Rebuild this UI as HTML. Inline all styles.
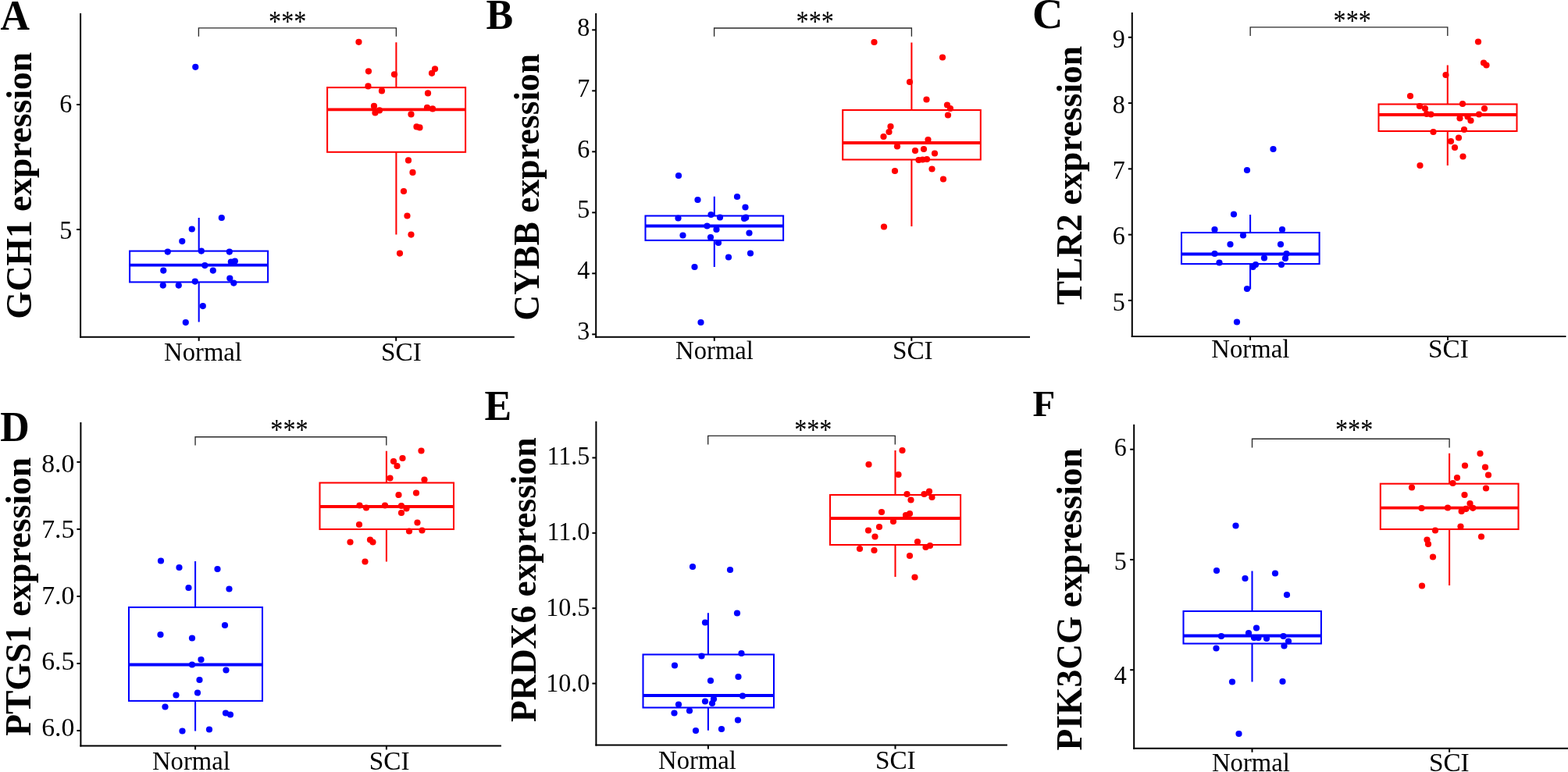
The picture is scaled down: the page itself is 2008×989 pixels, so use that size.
<!DOCTYPE html>
<html lang="en"><head><meta charset="utf-8"><title>Expression box plots</title>
<style>
html,body{margin:0;padding:0;background:#fff;}
body{width:2008px;height:989px;overflow:hidden;}
svg{display:block;font-family:"Liberation Serif",serif;}
.pl{font-weight:bold;font-size:54.5px;fill:#000;}
.yt{font-weight:bold;font-size:46.7px;fill:#000;text-anchor:middle;}
.tk{font-size:33.8px;fill:#000;}
.st{font-size:38.5px;fill:#000;text-anchor:middle;}
.ax{stroke:#000;stroke-width:2.0;fill:none;stroke-linecap:butt;}
.tkl{stroke:#000;stroke-width:2.0;fill:none;}
.br{stroke:#2b2b2b;stroke-width:1.35;fill:none;}
.bb{fill:none;stroke-width:2.05;stroke-linejoin:miter;}
.md{stroke-width:3.8;fill:none;}
</style></head><body>
<svg width="2008" height="989" viewBox="0 0 2008 989">
<rect x="0" y="0" width="2008" height="989" fill="#ffffff"/>
<g>
<g stroke="#0000ff"><path class="bb" d="M254.7 279.1V321.6M254.7 361.4V412.6"/><rect class="bb" x="166.1" y="321.6" width="177" height="39.8"/><path class="md" d="M166.1 339.7H343.1"/></g>
<g stroke="#ff0000"><path class="bb" d="M507.4 54.2V112.1M507.4 194.8V300.6"/><rect class="bb" x="419.1" y="112.1" width="177" height="82.7"/><path class="md" d="M419.1 140.4H596.1"/></g>
<g fill="#0000ff"><circle cx="250.29" cy="85.86" r="4.1"/><circle cx="283.81" cy="279.01" r="4.1"/><circle cx="245.78" cy="293.52" r="4.1"/><circle cx="233.27" cy="309.03" r="4.1"/><circle cx="214.76" cy="322.54" r="4.1"/><circle cx="257.79" cy="321.54" r="4.1"/><circle cx="293.82" cy="322.54" r="4.1"/><circle cx="295.82" cy="335.55" r="4.1"/><circle cx="300.83" cy="334.55" r="4.1"/><circle cx="262.3" cy="340.05" r="4.1"/><circle cx="209.26" cy="346.56" r="4.1"/><circle cx="272.8" cy="346.56" r="4.1"/><circle cx="294.32" cy="356.57" r="4.1"/><circle cx="299.32" cy="362.57" r="4.1"/><circle cx="249.79" cy="360.57" r="4.1"/><circle cx="228.77" cy="365.57" r="4.1"/><circle cx="208.76" cy="365.57" r="4.1"/><circle cx="259.79" cy="392.09" r="4.1"/><circle cx="237.78" cy="413.11" r="4.1"/></g>
<g fill="#ff0000"><circle cx="459.44" cy="53.84" r="4.1"/><circle cx="471.95" cy="91.37" r="4.1"/><circle cx="504.98" cy="95.37" r="4.1"/><circle cx="557.02" cy="88.37" r="4.1"/><circle cx="553.01" cy="93.87" r="4.1"/><circle cx="471.45" cy="110.38" r="4.1"/><circle cx="488.97" cy="116.39" r="4.1"/><circle cx="548.01" cy="119.39" r="4.1"/><circle cx="478.96" cy="135.9" r="4.1"/><circle cx="485.96" cy="141.41" r="4.1"/><circle cx="480.46" cy="144.41" r="4.1"/><circle cx="547.01" cy="137.9" r="4.1"/><circle cx="554.02" cy="139.4" r="4.1"/><circle cx="526.49" cy="146.41" r="4.1"/><circle cx="533.5" cy="162.42" r="4.1"/><circle cx="537.5" cy="163.42" r="4.1"/><circle cx="522.99" cy="205.45" r="4.1"/><circle cx="528.5" cy="220.97" r="4.1"/><circle cx="516.99" cy="244.98" r="4.1"/><circle cx="521.49" cy="276.51" r="4.1"/><circle cx="526.49" cy="300.53" r="4.1"/><circle cx="511.98" cy="324.54" r="4.1"/></g>
<path class="br" d="M254.4 46.8V35.8H507.4V46.8"/>
<text class="st" transform="translate(368.2 40) scale(0.8365 1)" x="0" y="0">***</text>
<path class="ax" d="M103.1 17V432.8"/>
<path class="ax" d="M102.1 431.8H658.8"/>
<path class="tkl" d="M98.1 134H103.1"/>
<text class="tk" text-anchor="end" transform="translate(92.4 144) scale(0.95 1)">6</text>
<path class="tkl" d="M98.1 294H103.1"/>
<text class="tk" text-anchor="end" transform="translate(92.4 305.6) scale(0.95 1)">5</text>
<path class="tkl" d="M254.7 431.8V436.8"/>
<text class="tk" text-anchor="middle" transform="translate(260 462.05) scale(0.9680 1)">Normal</text>
<path class="tkl" d="M507.2 431.8V436.8"/>
<text class="tk" text-anchor="middle" transform="translate(514 462.05) scale(0.9854 1)">SCI</text>
<text class="yt" transform="translate(40.2 237.8) rotate(-90) scale(0.9746 1)" x="0" y="0">GCH1 expression</text>
<text class="pl" transform="translate(0.6 37.8) scale(0.953 1)" x="0" y="0">A</text>
</g>
<g>
<g stroke="#0000ff"><path class="bb" d="M914.8 251.8V276.5M914.8 307.9V342"/><rect class="bb" x="826.5" y="276.5" width="176.6" height="31.4"/><path class="md" d="M826.5 289.5H1003.1"/></g>
<g stroke="#ff0000"><path class="bb" d="M1167.4 54.5V141M1167.4 204.5V290"/><rect class="bb" x="1079.2" y="141" width="176.6" height="63.5"/><path class="md" d="M1079.2 183H1255.8"/></g>
<g fill="#0000ff"><circle cx="869" cy="225" r="4.1"/><circle cx="893.5" cy="256" r="4.1"/><circle cx="944" cy="252" r="4.1"/><circle cx="954.5" cy="265.5" r="4.1"/><circle cx="910.5" cy="275" r="4.1"/><circle cx="922" cy="278.5" r="4.1"/><circle cx="868.5" cy="279.5" r="4.1"/><circle cx="953.1" cy="279.9" r="4.1"/><circle cx="955.2" cy="278.7" r="4.1"/><circle cx="905.5" cy="289.5" r="4.1"/><circle cx="917.5" cy="294" r="4.1"/><circle cx="874.5" cy="301.5" r="4.1"/><circle cx="959.5" cy="298.5" r="4.1"/><circle cx="910" cy="304" r="4.1"/><circle cx="920" cy="311" r="4.1"/><circle cx="933" cy="329.5" r="4.1"/><circle cx="961" cy="324.5" r="4.1"/><circle cx="889.5" cy="342" r="4.1"/><circle cx="897.5" cy="413" r="4.1"/></g>
<g fill="#ff0000"><circle cx="1119.5" cy="54" r="4.1"/><circle cx="1207" cy="73.5" r="4.1"/><circle cx="1165" cy="105" r="4.1"/><circle cx="1186.5" cy="127.5" r="4.1"/><circle cx="1213" cy="134.5" r="4.1"/><circle cx="1217" cy="139" r="4.1"/><circle cx="1214" cy="147.5" r="4.1"/><circle cx="1140.5" cy="162" r="4.1"/><circle cx="1138.5" cy="169" r="4.1"/><circle cx="1131.5" cy="175" r="4.1"/><circle cx="1188.5" cy="179" r="4.1"/><circle cx="1149" cy="187.5" r="4.1"/><circle cx="1172" cy="193" r="4.1"/><circle cx="1183" cy="191" r="4.1"/><circle cx="1197" cy="196.5" r="4.1"/><circle cx="1176.5" cy="205" r="4.1"/><circle cx="1181.5" cy="204.5" r="4.1"/><circle cx="1187" cy="204" r="4.1"/><circle cx="1146" cy="219" r="4.1"/><circle cx="1193.5" cy="216.5" r="4.1"/><circle cx="1208" cy="229.5" r="4.1"/><circle cx="1132" cy="290.5" r="4.1"/></g>
<path class="br" d="M914.6 46.8V36H1167.4V46.8"/>
<text class="st" transform="translate(1043.7 40) scale(0.8365 1)" x="0" y="0">***</text>
<path class="ax" d="M763.2 16.9V432.8"/>
<path class="ax" d="M762.2 431.8H1319"/>
<path class="tkl" d="M758.2 38.35H763.2"/>
<text class="tk" text-anchor="end" transform="translate(755.4 46) scale(0.95 1)">8</text>
<path class="tkl" d="M758.2 116.34H763.2"/>
<text class="tk" text-anchor="end" transform="translate(755.4 123.76) scale(0.95 1)">7</text>
<path class="tkl" d="M758.2 194.33H763.2"/>
<text class="tk" text-anchor="end" transform="translate(755.4 201.52) scale(0.95 1)">6</text>
<path class="tkl" d="M758.2 272.32H763.2"/>
<text class="tk" text-anchor="end" transform="translate(755.4 279.28) scale(0.95 1)">5</text>
<path class="tkl" d="M758.2 350.31H763.2"/>
<text class="tk" text-anchor="end" transform="translate(755.4 357.04) scale(0.95 1)">4</text>
<path class="tkl" d="M758.2 428.3H763.2"/>
<text class="tk" text-anchor="end" transform="translate(755.4 434.8) scale(0.95 1)">3</text>
<path class="tkl" d="M914.8 431.8V436.8"/>
<text class="tk" text-anchor="middle" transform="translate(915 460.1) scale(0.9680 1)">Normal</text>
<path class="tkl" d="M1167.3 431.8V436.8"/>
<text class="tk" text-anchor="middle" transform="translate(1168.8 460.1) scale(0.9854 1)">SCI</text>
<text class="yt" transform="translate(690.2 239.75) rotate(-90) scale(0.9746 1)" x="0" y="0">CYBB expression</text>
<text class="pl" transform="translate(622.4 36.85) scale(0.953 1)" x="0" y="0">B</text>
</g>
<g>
<g stroke="#0000ff"><path class="bb" d="M1601.1 275V298M1601.1 338.1V370.5"/><rect class="bb" x="1513" y="298" width="176.6" height="40.1"/><path class="md" d="M1513 325.5H1689.6"/></g>
<g stroke="#ff0000"><path class="bb" d="M1853.8 83.5V133.5M1853.8 168V212"/><rect class="bb" x="1765.5" y="133.5" width="177" height="34.5"/><path class="md" d="M1765.5 147H1942.5"/></g>
<g fill="#0000ff"><circle cx="1630.5" cy="191" r="4.1"/><circle cx="1597" cy="218" r="4.1"/><circle cx="1580" cy="274.5" r="4.1"/><circle cx="1555.5" cy="294" r="4.1"/><circle cx="1642" cy="294" r="4.1"/><circle cx="1592" cy="301.5" r="4.1"/><circle cx="1575.5" cy="313" r="4.1"/><circle cx="1640" cy="313" r="4.1"/><circle cx="1555.5" cy="325" r="4.1"/><circle cx="1647.5" cy="325" r="4.1"/><circle cx="1619" cy="330.5" r="4.1"/><circle cx="1646" cy="331" r="4.1"/><circle cx="1561.5" cy="336.5" r="4.1"/><circle cx="1608" cy="339" r="4.1"/><circle cx="1604.5" cy="342" r="4.1"/><circle cx="1641" cy="339" r="4.1"/><circle cx="1597" cy="370" r="4.1"/><circle cx="1584" cy="412.5" r="4.1"/></g>
<g fill="#ff0000"><circle cx="1893" cy="53.5" r="4.1"/><circle cx="1900" cy="80.5" r="4.1"/><circle cx="1903.5" cy="83.5" r="4.1"/><circle cx="1851.5" cy="96" r="4.1"/><circle cx="1806" cy="123" r="4.1"/><circle cx="1873" cy="133" r="4.1"/><circle cx="1818" cy="136" r="4.1"/><circle cx="1825" cy="139" r="4.1"/><circle cx="1901" cy="139" r="4.1"/><circle cx="1827" cy="146" r="4.1"/><circle cx="1832.5" cy="146.5" r="4.1"/><circle cx="1894" cy="146.5" r="4.1"/><circle cx="1879.5" cy="149.5" r="4.1"/><circle cx="1869.5" cy="151.5" r="4.1"/><circle cx="1883.5" cy="154.5" r="4.1"/><circle cx="1875" cy="166" r="4.1"/><circle cx="1835.5" cy="169" r="4.1"/><circle cx="1868" cy="176.5" r="4.1"/><circle cx="1858" cy="181" r="4.1"/><circle cx="1863" cy="189" r="4.1"/><circle cx="1873.5" cy="200.5" r="4.1"/><circle cx="1818.5" cy="212" r="4.1"/></g>
<path class="br" d="M1601.15 46V34.9H1853.8V46"/>
<text class="st" transform="translate(1731.7 39.3) scale(0.8365 1)" x="0" y="0">***</text>
<path class="ax" d="M1449.8 15.9V431.9"/>
<path class="ax" d="M1448.8 430.9H2005.4"/>
<path class="tkl" d="M1444.8 47.8H1449.8"/>
<text class="tk" text-anchor="end" transform="translate(1440.9 60.5) scale(0.95 1)">9</text>
<path class="tkl" d="M1444.8 132.08H1449.8"/>
<text class="tk" text-anchor="end" transform="translate(1440.9 144.75) scale(0.95 1)">8</text>
<path class="tkl" d="M1444.8 216.35H1449.8"/>
<text class="tk" text-anchor="end" transform="translate(1440.9 229) scale(0.95 1)">7</text>
<path class="tkl" d="M1444.8 300.63H1449.8"/>
<text class="tk" text-anchor="end" transform="translate(1440.9 313.25) scale(0.95 1)">6</text>
<path class="tkl" d="M1444.8 384.9H1449.8"/>
<text class="tk" text-anchor="end" transform="translate(1440.9 397.5) scale(0.95 1)">5</text>
<path class="tkl" d="M1601.1 430.9V435.9"/>
<text class="tk" text-anchor="middle" transform="translate(1601.3 458) scale(0.9680 1)">Normal</text>
<path class="tkl" d="M1854 430.9V435.9"/>
<text class="tk" text-anchor="middle" transform="translate(1855 458) scale(0.9854 1)">SCI</text>
<text class="yt" transform="translate(1385.2 224.7) rotate(-90) scale(0.9746 1)" x="0" y="0">TLR2 expression</text>
<text class="pl" transform="translate(1322 36.3) scale(1.0 1)" x="0" y="0">C</text>
</g>
<g>
<g stroke="#0000ff"><path class="bb" d="M250.1 719V778M250.1 897.9V936.5"/><rect class="bb" x="165" y="778" width="171" height="119.9"/><path class="md" d="M165 851.5H336"/></g>
<g stroke="#ff0000"><path class="bb" d="M494.9 577.7V618.5M494.9 678V719.5"/><rect class="bb" x="409.5" y="618.5" width="171.5" height="59.5"/><path class="md" d="M409.5 649H581"/></g>
<g fill="#0000ff"><circle cx="206" cy="718.5" r="4.1"/><circle cx="229.5" cy="727" r="4.1"/><circle cx="278.5" cy="729" r="4.1"/><circle cx="241.5" cy="753" r="4.1"/><circle cx="293.5" cy="754.5" r="4.1"/><circle cx="288" cy="801" r="4.1"/><circle cx="205.5" cy="813" r="4.1"/><circle cx="246" cy="817.5" r="4.1"/><circle cx="257.5" cy="845" r="4.1"/><circle cx="246" cy="851.5" r="4.1"/><circle cx="289.5" cy="858.5" r="4.1"/><circle cx="255.5" cy="871" r="4.1"/><circle cx="253" cy="887.5" r="4.1"/><circle cx="225.5" cy="890.5" r="4.1"/><circle cx="211.5" cy="905.5" r="4.1"/><circle cx="289" cy="913.5" r="4.1"/><circle cx="295" cy="915.5" r="4.1"/><circle cx="233.5" cy="936.5" r="4.1"/><circle cx="268" cy="934.5" r="4.1"/></g>
<g fill="#ff0000"><circle cx="539.5" cy="577.5" r="4.1"/><circle cx="515.5" cy="587" r="4.1"/><circle cx="504" cy="591" r="4.1"/><circle cx="508.5" cy="597" r="4.1"/><circle cx="499.5" cy="612.5" r="4.1"/><circle cx="543.5" cy="614.5" r="4.1"/><circle cx="533" cy="631.5" r="4.1"/><circle cx="510.5" cy="634" r="4.1"/><circle cx="460.5" cy="647.5" r="4.1"/><circle cx="469" cy="650.5" r="4.1"/><circle cx="493" cy="647.5" r="4.1"/><circle cx="514" cy="648" r="4.1"/><circle cx="520.5" cy="651.5" r="4.1"/><circle cx="514" cy="657" r="4.1"/><circle cx="460" cy="672" r="4.1"/><circle cx="534.5" cy="669.5" r="4.1"/><circle cx="524" cy="680.5" r="4.1"/><circle cx="540.5" cy="679.5" r="4.1"/><circle cx="448.5" cy="694.5" r="4.1"/><circle cx="474" cy="691.5" r="4.1"/><circle cx="477.5" cy="694.5" r="4.1"/><circle cx="467.5" cy="719.5" r="4.1"/></g>
<path class="br" d="M250.06 570.5V559.7H494.8V570.5"/>
<text class="st" transform="translate(370.5 563.2) scale(0.8365 1)" x="0" y="0">***</text>
<path class="ax" d="M103.4 540.9V956.4"/>
<path class="ax" d="M102.4 955.4H641.9"/>
<path class="tkl" d="M98.4 591.9H103.4"/>
<text class="tk" text-anchor="end" transform="translate(95.4 604.8) scale(1.0 1)">8.0</text>
<path class="tkl" d="M98.4 677.93H103.4"/>
<text class="tk" text-anchor="end" transform="translate(95.4 689.23) scale(1.0 1)">7.5</text>
<path class="tkl" d="M98.4 763.95H103.4"/>
<text class="tk" text-anchor="end" transform="translate(95.4 773.65) scale(1.0 1)">7.0</text>
<path class="tkl" d="M98.4 849.98H103.4"/>
<text class="tk" text-anchor="end" transform="translate(95.4 858.08) scale(1.0 1)">6.5</text>
<path class="tkl" d="M98.4 936H103.4"/>
<text class="tk" text-anchor="end" transform="translate(95.4 942.5) scale(1.0 1)">6.0</text>
<path class="tkl" d="M250.1 955.4V960.4"/>
<text class="tk" text-anchor="middle" transform="translate(244.9 985.8) scale(0.9680 1)">Normal</text>
<path class="tkl" d="M494.9 955.4V960.4"/>
<text class="tk" text-anchor="middle" transform="translate(498.7 985.8) scale(0.9854 1)">SCI</text>
<text class="yt" transform="translate(38.5 764.35) rotate(-90) scale(0.9746 1)" x="0" y="0">PTGS1 expression</text>
<text class="pl" transform="translate(0.2 565) scale(0.953 1)" x="0" y="0">D</text>
</g>
<g>
<g stroke="#0000ff"><path class="bb" d="M906.9 785.3V838.5M906.9 906.5V935.8"/><rect class="bb" x="823.5" y="838.5" width="167.5" height="68"/><path class="md" d="M823.5 891H991"/></g>
<g stroke="#ff0000"><path class="bb" d="M1146.5 577V634M1146.5 698V739"/><rect class="bb" x="1063" y="634" width="167.1" height="64"/><path class="md" d="M1063 664H1230.1"/></g>
<g fill="#0000ff"><circle cx="887" cy="726" r="4.1"/><circle cx="935" cy="730" r="4.1"/><circle cx="944" cy="785.5" r="4.1"/><circle cx="903" cy="797.5" r="4.1"/><circle cx="949.5" cy="837" r="4.1"/><circle cx="898.5" cy="840.5" r="4.1"/><circle cx="864" cy="852.5" r="4.1"/><circle cx="945.5" cy="867" r="4.1"/><circle cx="910" cy="872" r="4.1"/><circle cx="951" cy="891.5" r="4.1"/><circle cx="914" cy="895.5" r="4.1"/><circle cx="903" cy="898.5" r="4.1"/><circle cx="912" cy="901" r="4.1"/><circle cx="869" cy="902.5" r="4.1"/><circle cx="883" cy="910.5" r="4.1"/><circle cx="863.5" cy="913.5" r="4.1"/><circle cx="945" cy="922.5" r="4.1"/><circle cx="924" cy="934" r="4.1"/><circle cx="891" cy="936" r="4.1"/></g>
<g fill="#ff0000"><circle cx="1155.5" cy="577" r="4.1"/><circle cx="1112.5" cy="595" r="4.1"/><circle cx="1150.5" cy="608" r="4.1"/><circle cx="1190" cy="629.5" r="4.1"/><circle cx="1161.5" cy="633" r="4.1"/><circle cx="1183.5" cy="633" r="4.1"/><circle cx="1193.5" cy="637" r="4.1"/><circle cx="1166.5" cy="640.5" r="4.1"/><circle cx="1129" cy="656" r="4.1"/><circle cx="1165" cy="658" r="4.1"/><circle cx="1160" cy="660" r="4.1"/><circle cx="1144" cy="668" r="4.1"/><circle cx="1126" cy="675" r="4.1"/><circle cx="1112" cy="679.5" r="4.1"/><circle cx="1120.5" cy="687.5" r="4.1"/><circle cx="1175" cy="694" r="4.1"/><circle cx="1191" cy="699" r="4.1"/><circle cx="1185.5" cy="701" r="4.1"/><circle cx="1101" cy="703" r="4.1"/><circle cx="1119.5" cy="705" r="4.1"/><circle cx="1165" cy="712" r="4.1"/><circle cx="1171.5" cy="739.5" r="4.1"/></g>
<path class="br" d="M906.7 569.5V558.35H1146.3V569.5"/>
<text class="st" transform="translate(1041.3 563.2) scale(0.8365 1)" x="0" y="0">***</text>
<path class="ax" d="M763.4 539.8V955.6"/>
<path class="ax" d="M762.4 954.6H1290.05"/>
<path class="tkl" d="M758.4 586.45H763.4"/>
<text class="tk" text-anchor="end" transform="translate(755.4 594.8) scale(0.95 1)">11.5</text>
<path class="tkl" d="M758.4 682.83H763.4"/>
<text class="tk" text-anchor="end" transform="translate(755.4 692) scale(0.95 1)">11.0</text>
<path class="tkl" d="M758.4 779.22H763.4"/>
<text class="tk" text-anchor="end" transform="translate(755.4 789.2) scale(0.95 1)">10.5</text>
<path class="tkl" d="M758.4 875.6H763.4"/>
<text class="tk" text-anchor="end" transform="translate(755.4 886.4) scale(0.95 1)">10.0</text>
<path class="tkl" d="M906.9 954.6V959.6"/>
<text class="tk" text-anchor="middle" transform="translate(893 984.6) scale(0.9680 1)">Normal</text>
<path class="tkl" d="M1146.5 954.6V959.6"/>
<text class="tk" text-anchor="middle" transform="translate(1146.8 984.6) scale(0.9854 1)">SCI</text>
<text class="yt" transform="translate(686.2 742.7) rotate(-90) scale(0.9746 1)" x="0" y="0">PRDX6 expression</text>
<text class="pl" transform="translate(620.6 537.85) scale(0.953 1)" x="0" y="0">E</text>
</g>
<g>
<g stroke="#0000ff"><path class="bb" d="M1603.5 731.5V783M1603.5 824.5V873.4"/><rect class="bb" x="1515.5" y="783" width="176.4" height="41.5"/><path class="md" d="M1515.5 814.5H1691.9"/></g>
<g stroke="#ff0000"><path class="bb" d="M1856.1 580.7V619.7M1856.1 678V750"/><rect class="bb" x="1767.8" y="619.7" width="176.7" height="58.3"/><path class="md" d="M1767.8 650.7H1944.5"/></g>
<g fill="#0000ff"><circle cx="1582.5" cy="673.5" r="4.1"/><circle cx="1558" cy="731" r="4.1"/><circle cx="1633" cy="734.5" r="4.1"/><circle cx="1594.5" cy="741" r="4.1"/><circle cx="1648" cy="762" r="4.1"/><circle cx="1609" cy="804.5" r="4.1"/><circle cx="1599" cy="811" r="4.1"/><circle cx="1564" cy="815" r="4.1"/><circle cx="1643.5" cy="815" r="4.1"/><circle cx="1606" cy="817" r="4.1"/><circle cx="1611.5" cy="817" r="4.1"/><circle cx="1622" cy="818" r="4.1"/><circle cx="1650" cy="821.5" r="4.1"/><circle cx="1644.5" cy="827.5" r="4.1"/><circle cx="1557.5" cy="830.5" r="4.1"/><circle cx="1578" cy="873.5" r="4.1"/><circle cx="1642.5" cy="873" r="4.1"/><circle cx="1586.5" cy="940" r="4.1"/></g>
<g fill="#ff0000"><circle cx="1895.5" cy="581" r="4.1"/><circle cx="1876" cy="596.5" r="4.1"/><circle cx="1902" cy="598.5" r="4.1"/><circle cx="1906" cy="608.5" r="4.1"/><circle cx="1866" cy="612" r="4.1"/><circle cx="1860.5" cy="619" r="4.1"/><circle cx="1808" cy="624.5" r="4.1"/><circle cx="1903" cy="625.5" r="4.1"/><circle cx="1875.5" cy="634" r="4.1"/><circle cx="1882.5" cy="645" r="4.1"/><circle cx="1886.2" cy="650.8" r="4.1"/><circle cx="1877.3" cy="651.9" r="4.1"/><circle cx="1820.5" cy="651" r="4.1"/><circle cx="1854" cy="650.5" r="4.1"/><circle cx="1871.65" cy="655" r="4.1"/><circle cx="1870.5" cy="674.5" r="4.1"/><circle cx="1838" cy="679.5" r="4.1"/><circle cx="1897" cy="687.5" r="4.1"/><circle cx="1827.5" cy="691.5" r="4.1"/><circle cx="1829" cy="697" r="4.1"/><circle cx="1835" cy="713.5" r="4.1"/><circle cx="1821" cy="750.5" r="4.1"/></g>
<path class="br" d="M1603.5 573.4V562.25H1856.1V573.4"/>
<text class="st" transform="translate(1734.1 563.2) scale(0.8365 1)" x="0" y="0">***</text>
<path class="ax" d="M1452.2 543.8V959.7"/>
<path class="ax" d="M1451.2 958.7H2008.5"/>
<path class="tkl" d="M1447.2 575.7H1452.2"/>
<text class="tk" text-anchor="end" transform="translate(1442.7 583.6) scale(0.95 1)">6</text>
<path class="tkl" d="M1447.2 716.95H1452.2"/>
<text class="tk" text-anchor="end" transform="translate(1442.7 729.6) scale(0.95 1)">5</text>
<path class="tkl" d="M1447.2 858.2H1452.2"/>
<text class="tk" text-anchor="end" transform="translate(1442.7 875.6) scale(0.95 1)">4</text>
<path class="tkl" d="M1603.5 958.7V963.7"/>
<text class="tk" text-anchor="middle" transform="translate(1601.9 988) scale(0.9680 1)">Normal</text>
<path class="tkl" d="M1856.1 958.7V963.7"/>
<text class="tk" text-anchor="middle" transform="translate(1855.8 988) scale(0.9854 1)">SCI</text>
<text class="yt" transform="translate(1384.9 767.8) rotate(-90) scale(0.9746 1)" x="0" y="0">PIK3CG expression</text>
<text class="pl" style="font-size:47.0px" transform="translate(1322.4 532.9) scale(1.0 1)" x="0" y="0">F</text>
</g>
</svg></body></html>
